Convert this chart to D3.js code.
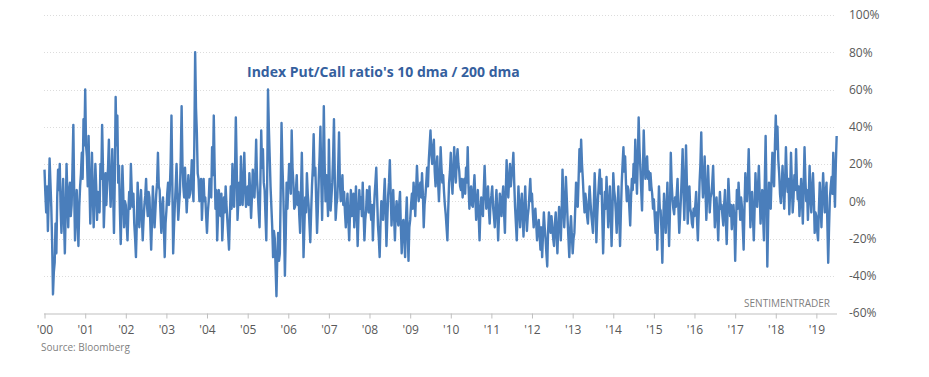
<!DOCTYPE html>
<html lang="en">
<head>
    <meta charset="UTF-8">
    <script src="https://cdn.jsdelivr.net/npm/d3@7"></script>
    <title>Index Put/Call ratio</title>
    <style>
        body { margin: 0; background: #fff; }
        text { font-family: "Open Sans", "Noto Sans", sans-serif; }
    </style>
</head>
<body>
</body>
<script>
    // index put/call 10dma / 200dma, in %, about one reading per week (48 a year)
    let startYear = 2000;
    let perYear = 48;
    let ratioByYear = [
        [17, 4, -6, 8, -16, 2, 23, 10, -3, -22, -50, -38, -33, -12, -28, 2, 17, 6, 20, -4, -17, 0, 12, -10, -28, -6, 20, 3, -14, 5, 10, -8, -2, 18, 41, 5, -21, -6, 6, -10, -24, -3, 8, 15, 26, 12, 44, 30],
        [60, 30, 24, 8, 35, 10, -12, 6, 26, 4, -14, 2, 20, 8, -10, 5, 3, -6, 20, 12, 41, 18, -14, 0, 15, -2, 10, 18, 33, 12, -3, 9, 28, 6, -17, 12, 56, 30, 46, 10, 19, -5, -23, -2, 19, 4, -14, 0],
        [-2, -12, -21, -6, 5, -4, 20, 6, -3, 4, -12, -20, -30, -12, 10, -3, -14, -2, 6, -8, -21, -10, -2, 3, 12, -2, -8, 5, 2, -12, -26, -10, 8, -4, -14, -5, 4, 10, 26, 8, 6, -6, -17, -4, 2, -14, -30, -12],
        [-5, 4, 10, -2, 6, 20, 46, 10, -28, -14, -2, 8, 20, 4, -10, -2, 5, 24, 51, 20, 8, 2, 18, 6, -6, 4, 14, 2, 4, 10, 22, 8, 0, 30, 80, 50, 37, 15, 12, 0, 5, 12, -10, 2, 12, 0, 2, -8],
        [-17, -6, 0, 12, 10, 2, 29, 14, 46, 18, -4, 6, -21, -8, 6, -4, -8, 4, -21, -10, 2, -6, 8, -2, -10, -18, -26, -8, 8, -4, 20, 6, -3, 14, 45, 20, -10, 0, 10, -2, 24, 8, -2, 10, 26, 8, -3, 6],
        [8, -2, 15, 4, -9, 2, 17, 6, 2, 14, 33, 12, 4, -6, -14, 10, 38, 18, 28, 10, 6, -8, -21, 8, 60, 40, 24, 8, -3, -14, -30, -16, -20, -36, -51, -30, -17, -32, -28, 4, 42, 20, 6, -14, -40, -18, 10, -4],
        [8, 20, 15, 4, 38, 18, 10, -4, -3, 6, 14, -2, 5, -8, -17, 4, 26, 2, -30, -14, 2, -6, 15, 4, -2, -12, -22, -6, 8, 18, 36, 14, 18, 0, -17, -4, 12, 24, 40, 12, -10, 16, 51, 20, 0, 14, 4, -8],
        [33, 10, -5, 2, 10, 24, 44, 12, -10, -2, 2, 18, 37, 10, 0, 6, 14, -2, 5, -6, -14, -4, 4, -10, -21, -6, 6, -8, -2, 4, -14, -4, 8, -6, -24, -8, 6, -4, 2, -8, 10, -6, -21, -10, -5, 6, 4, -6],
        [8, -4, -10, -2, -21, -8, 3, 10, 18, 2, -13, -20, -30, -12, 0, -6, -10, 2, 12, -4, -24, -10, 3, 10, 22, 4, -13, -2, 6, -8, -21, -6, 0, -8, -13, -2, 5, -14, -28, -12, -10, -20, -30, -10, 2, -16, -32, -14],
        [-10, -2, 4, -4, 10, 2, -8, 6, 19, 8, 0, 6, 10, 2, 15, 4, -14, -2, 3, 10, 18, 8, 22, 30, 38, 26, 20, 28, 33, 16, 8, 18, 24, 10, 0, 12, 29, 18, 10, 14, 5, -2, -7, -14, -21, -4, 10, 16],
        [26, 12, 4, 16, 29, 18, 10, 22, 28, 20, 16, 8, 6, 12, 2, 8, 12, 4, 18, 10, 29, 8, -4, 4, 8, -2, -3, 6, 14, 2, -10, -2, 6, -8, -21, -6, 2, -4, -8, 6, 19, 6, -4, 2, 8, -4, -12, 0],
        [3, 8, -3, -8, -14, -2, 6, -6, -21, -8, 4, -2, -8, 2, 8, -6, -17, 4, 22, 10, 2, 12, 20, 8, 14, 18, 26, 10, -3, -12, -21, -6, 8, -4, -14, -2, 4, -8, -19, -4, 8, -6, -16, -8, -4, 4, 12, 0],
        [4, -6, -14, -8, -4, -12, -21, -14, -10, -18, -26, -14, -30, -18, -6, -14, -20, -28, -35, -16, -6, -12, -17, -8, -14, -20, -24, -12, -6, -18, -28, -14, -3, -10, -21, -6, 17, 0, -14, -4, 13, 2, -10, -20, -30, -16, -8, -18],
        [-28, -20, -17, -4, 10, 2, -3, 12, 28, 16, 33, 20, 12, 2, -6, 4, 0, -8, -12, -2, 8, 0, -7, -12, -17, -2, 15, 2, -22, -8, 2, 10, 17, 4, 12, -8, -28, -10, 5, -4, 13, 0, -14, -4, 8, -8, -24, -6],
        [15, 6, 2, -6, -17, -4, 8, -8, -24, -6, 10, 20, 29, 16, 24, 10, 0, 8, 6, -4, -13, 2, 12, 6, 20, 10, 33, 18, 4, 22, 45, 28, 18, 6, -5, 16, 38, 22, 12, 20, 24, 12, 16, 6, 15, 8, 4, -4],
        [1, -8, -17, -6, -26, -10, 8, -4, -5, -16, -33, -12, 4, -6, -17, -4, 10, -8, -24, -6, 26, 10, 1, -4, -7, 2, -3, 4, 12, -4, -17, -8, 2, 14, 28, 6, -10, 8, 30, 10, -12, -2, 8, -4, -6, -12, -14, -4],
        [-8, -2, 5, -10, -21, -6, 10, 20, 37, 14, 2, 10, 24, 6, -10, 4, 19, 6, -6, 2, 4, 10, 19, 2, -14, -4, 2, -8, -21, -6, 5, -4, -2, -8, -13, -2, 6, -10, -23, -6, 12, 2, -8, -2, -15, -6, -2, -10],
        [-32, -12, 6, -4, 10, 0, -10, 2, -3, -14, -26, -4, 15, 4, 0, 12, 28, 8, -14, -2, 5, -8, -21, -4, 15, 2, -3, 8, 19, 4, -12, -2, 6, -8, -21, 10, 35, 4, -35, -10, 10, 0, -4, 12, 26, 16, 8, 30],
        [46, 28, 40, 22, 15, 4, -1, 8, 19, 6, -4, 10, 29, 14, 5, 12, -7, 6, 26, 10, -6, 2, 14, 6, 28, 10, 1, 8, -8, 2, 12, 0, -12, 8, 29, 12, 0, 6, -10, 2, 19, 4, -6, 6, 15, 2, -17, -6],
        [-8, -16, -21, -4, 10, -2, -14, 2, 15, 4, -6, 4, 10, -12, -33, -14, 2, 8, 13, 4, 26, 10, -3, 20, 35]
    ];
    let yTicks = [-60, -40, -20, 0, 20, 40, 60, 80, 100];
    let xTickYears = d3.range(2000, 2020);

    let width = 929, height = 377;

    let svg = d3.select("body")
        .append("svg")
        .attr("width", width)
        .attr("height", height);

    // one point per reading, spread evenly through its year
    let data = [];
    ratioByYear.forEach((row, yi) => {
        let y0 = new Date(startYear + yi, 0, 1);
        let y1 = new Date(startYear + yi + 1, 0, 1);
        row.forEach((v, i) => {
            data.push({ date: new Date(+y0 + (y1 - y0) * i / perYear), value: v });
        });
    });

    // scales
    let xScale = d3.scaleTime()
        .domain([new Date(2000, 0, 1), new Date(2019, 6, 1)])
        .range([44.5, 836.5]);

    let yScale = d3.scaleLinear()
        .domain([-60, 100])
        .range([313, 15]);

    // dotted gridlines
    svg.append("g")
        .selectAll("line")
        .data(yTicks.filter(d => d > -60))
        .enter()
        .append("line")
        .attr("x1", 44)
        .attr("x2", 836)
        .attr("y1", d => Math.round(yScale(d)) + 0.5)
        .attr("y2", d => Math.round(yScale(d)) + 0.5)
        .attr("stroke", "#dcdcdc")
        .attr("stroke-dasharray", "1,2");

    // right axis labels
    let yAxis = d3.axisRight(yScale)
        .tickValues(yTicks)
        .tickSize(0)
        .tickPadding(0)
        .tickFormat(d => d + "%");

    let gy = svg.append("g")
        .attr("transform", "translate(849, 0)")
        .call(yAxis);
    gy.select(".domain").remove();
    gy.selectAll("text")
        .attr("fill", "#595959")
        .style("font-size", "12px");

    // bottom axis
    let xAxis = d3.axisBottom(xScale)
        .tickValues(xTickYears.map(y => new Date(y, 0, 1)))
        .tickSize(5)
        .tickPadding(7)
        .tickFormat(d => "'" + d3.timeFormat("%y")(d));

    let gx = svg.append("g")
        .attr("transform", "translate(0, 313.5)")
        .call(xAxis);
    gx.select(".domain")
        .attr("stroke", "#bfbfbf")
        .attr("d", "M44,0.5H837");
    gx.selectAll(".tick line").attr("stroke", "#bfbfbf");
    gx.selectAll("text")
        .attr("fill", "#595959")
        .style("font-size", "12px");

    // the series
    let line = d3.line()
        .x(d => xScale(d.date))
        .y(d => yScale(d.value));

    svg.append("path")
        .datum(data)
        .attr("d", line)
        .attr("fill", "none")
        .attr("stroke", "#4a7ebb")
        .attr("stroke-width", 2.4)
        .attr("stroke-linejoin", "round");

    // texts
    svg.append("text")
        .attr("x", 247)
        .attr("y", 77)
        .attr("fill", "#35609e")
        .style("font-size", "14px")
        .style("font-weight", "bold")
        .text("Index Put/Call ratio's 10 dma / 200 dma");

    svg.append("text")
        .attr("x", 830)
        .attr("y", 307)
        .attr("text-anchor", "end")
        .attr("fill", "#7f7f7f")
        .style("font-size", "10px")
        .text("SENTIMENTRADER");

    svg.append("text")
        .attr("x", 41)
        .attr("y", 351)
        .attr("fill", "#7f7f7f")
        .style("font-size", "10px")
        .text("Source:  Bloomberg");
</script>
</html>
